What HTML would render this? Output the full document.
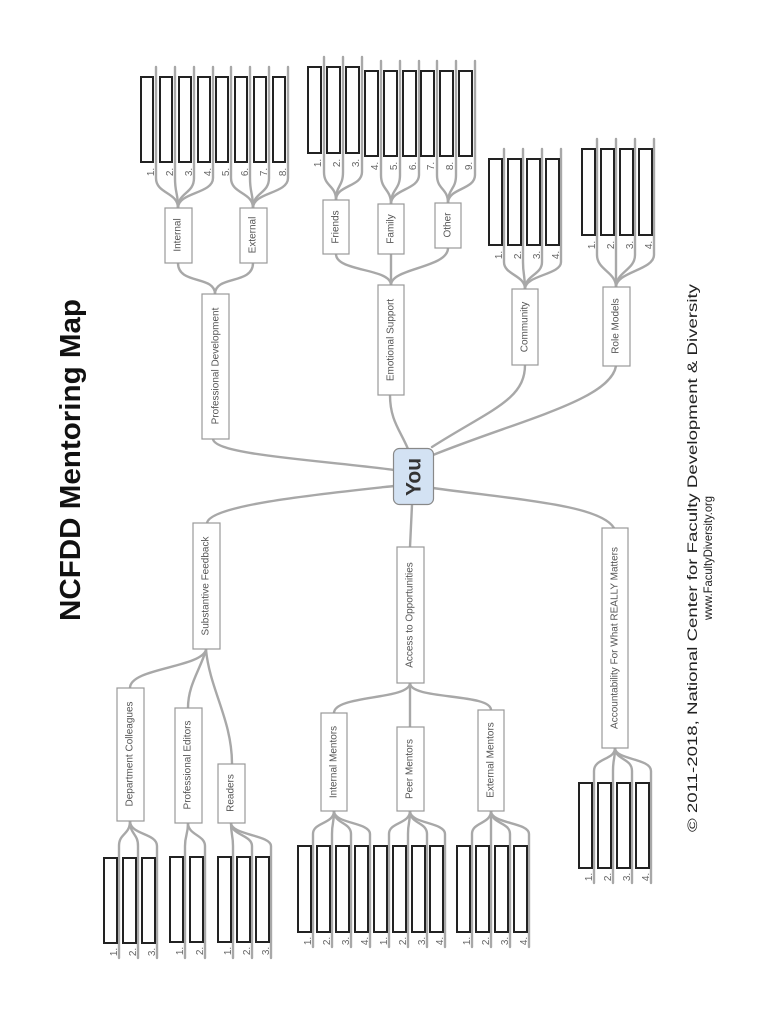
<!DOCTYPE html>
<html><head><meta charset="utf-8"><style>
html,body{margin:0;padding:0;background:#fff;}
svg{display:block;}
text{font-family:"Liberation Sans",Arial,sans-serif;}
.c{fill:none;stroke:#a8a8a8;stroke-width:2.4;stroke-linecap:round;}
.n{fill:#fff;stroke:#999;stroke-width:1.2;}
.l{fill:#fff;stroke:#222;stroke-width:2;}
.t{font-size:10px;fill:#555;}
.k{font-size:10px;fill:#666;}
</style></head><body>
<svg width="770" height="1024" viewBox="0 0 770 1024" xmlns="http://www.w3.org/2000/svg">
<!-- Title -->
<text transform="translate(80,460) rotate(-90)" text-anchor="middle" font-size="29" font-weight="bold" fill="#111" textLength="322" lengthAdjust="spacingAndGlyphs">NCFDD Mentoring Map</text>
<text transform="translate(697,558) rotate(-90)" text-anchor="middle" font-size="13.5" fill="#222" textLength="548" lengthAdjust="spacingAndGlyphs">© 2011-2018, National Center for Faculty Development &amp; Diversity</text>
<text transform="translate(712,558) rotate(-90)" text-anchor="middle" font-size="12" fill="#222" textLength="124" lengthAdjust="spacingAndGlyphs">www.FacultyDiversity.org</text>

<!-- main connectors -->
<path class="c" d="M394,470 C320,460 215,455 213,439"/>
<path class="c" d="M408,449 C400,430 390,420 390,395"/>
<path class="c" d="M394,486 C320,494 210,505 207,523"/>
<path class="c" d="M412,505 L410,547"/>
<path class="c" d="M433,488 C520,500 600,505 614,528"/>
<path class="c" d="M432,447 C490,410 525,400 525,365"/>
<path class="c" d="M433,455 C520,420 610,400 616,366"/>

<!-- second-level connectors -->
<path class="c" d="M215,294 C215,275 178,285 178,263"/>
<path class="c" d="M215,294 C215,275 253,285 253,263"/>
<path class="c" d="M391,285 C391,268 336,272 336,254"/>
<path class="c" d="M391,285 L391,254"/>
<path class="c" d="M391,285 C391,268 448,268 448,248"/>
<path class="c" d="M206,650 C200,668 130,668 130,688"/>
<path class="c" d="M206,650 C200,670 188,685 188,708"/>
<path class="c" d="M206,650 C210,690 232,720 232,764"/>
<path class="c" d="M410,683 C410,700 334,695 334,713"/>
<path class="c" d="M410,683 L410,727"/>
<path class="c" d="M410,683 C410,700 491,693 491,710"/>

<!-- leaf connectors: top groups -->
<g class="c" fill="none">
<path d="M178,208 C178,192 156,194 156,178 L156,67"/><path d="M178,208 C178,192 175,194 175,178 L175,67"/><path d="M178,208 C178,192 194,194 194,178 L194,67"/><path d="M178,208 C178,192 213,194 213,178 L213,67"/>
<path d="M253,208 C253,192 231,194 231,178 L231,67"/><path d="M253,208 C253,192 250,194 250,178 L250,67"/><path d="M253,208 C253,192 269,194 269,178 L269,67"/><path d="M253,208 C253,192 288,194 288,178 L288,67"/>
<path d="M336,200 C336,185 324,187 324,172 L324,57"/><path d="M336,200 C336,185 343,187 343,172 L343,57"/><path d="M336,200 C336,185 362,187 362,172 L362,57"/>
<path d="M391,204 C391,189 381,190 381,175 L381,61"/><path d="M391,204 C391,189 400,190 400,175 L400,61"/><path d="M391,204 C391,189 419,190 419,175 L419,61"/>
<path d="M448,203 C448,188 437,190 437,175 L437,61"/><path d="M448,203 C448,188 456,190 456,175 L456,61"/><path d="M448,203 C448,188 475,190 475,175 L475,61"/>
<path d="M525,289 C525,275 504,275 504,262 L504,149"/><path d="M525,289 C525,275 523,275 523,262 L523,149"/><path d="M525,289 C525,275 542,275 542,262 L542,149"/><path d="M525,289 C525,275 561,275 561,262 L561,149"/>
<path d="M616,287 C616,272 597,270 597,255 L597,139"/><path d="M616,287 C616,272 616,270 616,255 L616,139"/><path d="M616,287 C616,272 635,270 635,255 L635,139"/><path d="M616,287 C616,272 654,270 654,255 L654,139"/>
<!-- bottom groups -->
<path d="M130,821 C130,835 119,833 119,846 L119,958"/><path d="M130,821 C130,835 138,833 138,846 L138,958"/><path d="M130,821 C130,835 157,833 157,846 L157,958"/>
<path d="M188,823 C188,835 185,835 185,846 L185,958"/><path d="M188,823 C188,835 205,835 205,846 L205,958"/>
<path d="M231,823 C231,835 233,835 233,846 L233,958"/><path d="M231,823 C231,835 252,835 252,846 L252,958"/><path d="M231,823 C231,835 271,835 271,846 L271,958"/>
<path d="M334,811 C334,824 313,822 313,834 L313,947"/><path d="M334,811 C334,824 332,822 332,834 L332,947"/><path d="M334,811 C334,824 351,822 351,834 L351,947"/><path d="M334,811 C334,824 370,822 370,834 L370,947"/>
<path d="M410,811 C410,824 389,822 389,834 L389,947"/><path d="M410,811 C410,824 408,822 408,834 L408,947"/><path d="M410,811 C410,824 427,822 427,834 L427,947"/><path d="M410,811 C410,824 445,822 445,834 L445,947"/>
<path d="M491,811 C491,824 472,822 472,834 L472,947"/><path d="M491,811 C491,824 491,822 491,834 L491,947"/><path d="M491,811 C491,824 510,822 510,834 L510,947"/><path d="M491,811 C491,824 529,822 529,834 L529,947"/>
<path d="M615,748 C615,760 594,758 594,771 L594,883"/><path d="M615,748 C615,760 613,758 613,771 L613,883"/><path d="M615,748 C615,760 632,758 632,771 L632,883"/><path d="M615,748 C615,760 651,758 651,771 L651,883"/>
</g>

<!-- You -->
<rect x="393.5" y="448.5" width="40" height="56" rx="6" fill="#d3e2f3" stroke="#888" stroke-width="1.2"/>
<text transform="translate(414,477) rotate(-90)" text-anchor="middle" dominant-baseline="central" font-size="21" font-weight="bold" fill="#333">You</text>

<!-- nodes -->
<g class="t">
<rect class="n" x="202" y="294" width="27" height="145"/><text transform="translate(216,366) rotate(-90)" text-anchor="middle" dominant-baseline="central">Professional Development</text>
<rect class="n" x="378" y="285" width="26" height="110"/><text transform="translate(391,340) rotate(-90)" text-anchor="middle" dominant-baseline="central">Emotional Support</text>
<rect class="n" x="512" y="289" width="26" height="76"/><text transform="translate(525,327) rotate(-90)" text-anchor="middle" dominant-baseline="central">Community</text>
<rect class="n" x="603" y="287" width="27" height="79"/><text transform="translate(616,326) rotate(-90)" text-anchor="middle" dominant-baseline="central">Role Models</text>
<rect class="n" x="193" y="523" width="27" height="126"/><text transform="translate(206,586) rotate(-90)" text-anchor="middle" dominant-baseline="central">Substantive Feedback</text>
<rect class="n" x="397" y="547" width="27" height="136"/><text transform="translate(410,615) rotate(-90)" text-anchor="middle" dominant-baseline="central">Access to Opportunities</text>
<rect class="n" x="602" y="528" width="26" height="220"/><text transform="translate(615,638) rotate(-90)" text-anchor="middle" dominant-baseline="central">Accountability For What REALLY Matters</text>
<rect class="n" x="165" y="208" width="27" height="55"/><text transform="translate(178,235) rotate(-90)" text-anchor="middle" dominant-baseline="central">Internal</text>
<rect class="n" x="240" y="208" width="27" height="55"/><text transform="translate(253,235) rotate(-90)" text-anchor="middle" dominant-baseline="central">External</text>
<rect class="n" x="323" y="200" width="26" height="54"/><text transform="translate(336,227) rotate(-90)" text-anchor="middle" dominant-baseline="central">Friends</text>
<rect class="n" x="378" y="204" width="26" height="50"/><text transform="translate(391,229) rotate(-90)" text-anchor="middle" dominant-baseline="central">Family</text>
<rect class="n" x="435" y="203" width="26" height="45"/><text transform="translate(448,225) rotate(-90)" text-anchor="middle" dominant-baseline="central">Other</text>
<rect class="n" x="117" y="688" width="27" height="133"/><text transform="translate(130,754) rotate(-90)" text-anchor="middle" dominant-baseline="central">Department Colleagues</text>
<rect class="n" x="175" y="708" width="27" height="115"/><text transform="translate(188,765) rotate(-90)" text-anchor="middle" dominant-baseline="central">Professional Editors</text>
<rect class="n" x="218" y="764" width="27" height="59"/><text transform="translate(231,793) rotate(-90)" text-anchor="middle" dominant-baseline="central">Readers</text>
<rect class="n" x="321" y="713" width="26" height="98"/><text transform="translate(334,762) rotate(-90)" text-anchor="middle" dominant-baseline="central">Internal Mentors</text>
<rect class="n" x="397" y="727" width="27" height="84"/><text transform="translate(410,769) rotate(-90)" text-anchor="middle" dominant-baseline="central">Peer Mentors</text>
<rect class="n" x="478" y="710" width="26" height="101"/><text transform="translate(491,760) rotate(-90)" text-anchor="middle" dominant-baseline="central">External Mentors</text>
</g>

<!-- leaves top -->
<g>
<rect class="l" x="141" y="77" width="12" height="85"/><rect class="l" x="160" y="77" width="12" height="85"/><rect class="l" x="179" y="77" width="12" height="85"/><rect class="l" x="198" y="77" width="12" height="85"/>
<rect class="l" x="216" y="77" width="12" height="85"/><rect class="l" x="235" y="77" width="12" height="85"/><rect class="l" x="254" y="77" width="12" height="85"/><rect class="l" x="273" y="77" width="12" height="85"/>
<rect class="l" x="308" y="67" width="13" height="86"/><rect class="l" x="327" y="67" width="13" height="86"/><rect class="l" x="346" y="67" width="13" height="86"/>
<rect class="l" x="365" y="71" width="13" height="85"/><rect class="l" x="384" y="71" width="13" height="85"/><rect class="l" x="403" y="71" width="13" height="85"/>
<rect class="l" x="421" y="71" width="13" height="85"/><rect class="l" x="440" y="71" width="13" height="85"/><rect class="l" x="459" y="71" width="13" height="85"/>
<rect class="l" x="489" y="159" width="13" height="86"/><rect class="l" x="508" y="159" width="13" height="86"/><rect class="l" x="527" y="159" width="13" height="86"/><rect class="l" x="546" y="159" width="13" height="86"/>
<rect class="l" x="582" y="149" width="13" height="86"/><rect class="l" x="601" y="149" width="13" height="86"/><rect class="l" x="620" y="149" width="13" height="86"/><rect class="l" x="639" y="149" width="13" height="86"/>
<!-- leaves bottom -->
<rect class="l" x="104" y="858" width="13" height="85"/><rect class="l" x="123" y="858" width="13" height="85"/><rect class="l" x="142" y="858" width="13" height="85"/>
<rect class="l" x="170" y="857" width="13" height="85"/><rect class="l" x="190" y="857" width="13" height="85"/>
<rect class="l" x="218" y="857" width="13" height="85"/><rect class="l" x="237" y="857" width="13" height="85"/><rect class="l" x="256" y="857" width="13" height="85"/>
<rect class="l" x="298" y="846" width="13" height="86"/><rect class="l" x="317" y="846" width="13" height="86"/><rect class="l" x="336" y="846" width="13" height="86"/><rect class="l" x="355" y="846" width="13" height="86"/>
<rect class="l" x="374" y="846" width="13" height="86"/><rect class="l" x="393" y="846" width="13" height="86"/><rect class="l" x="412" y="846" width="13" height="86"/><rect class="l" x="430" y="846" width="13" height="86"/>
<rect class="l" x="457" y="846" width="13" height="86"/><rect class="l" x="476" y="846" width="13" height="86"/><rect class="l" x="495" y="846" width="13" height="86"/><rect class="l" x="514" y="846" width="13" height="86"/>
<rect class="l" x="579" y="783" width="13" height="85"/><rect class="l" x="598" y="783" width="13" height="85"/><rect class="l" x="617" y="783" width="13" height="85"/><rect class="l" x="636" y="783" width="13" height="85"/>
</g>

<!-- numbers -->
<g class="k" text-anchor="middle">
<text transform="translate(151,172) rotate(-90)" dy="3">1.</text><text transform="translate(170,172) rotate(-90)" dy="3">2.</text><text transform="translate(189,172) rotate(-90)" dy="3">3.</text><text transform="translate(208,172) rotate(-90)" dy="3">4.</text>
<text transform="translate(226,172) rotate(-90)" dy="3">5.</text><text transform="translate(245,172) rotate(-90)" dy="3">6.</text><text transform="translate(264,172) rotate(-90)" dy="3">7.</text><text transform="translate(283,172) rotate(-90)" dy="3">8.</text>
<text transform="translate(318,163) rotate(-90)" dy="3">1.</text><text transform="translate(337,163) rotate(-90)" dy="3">2.</text><text transform="translate(356,163) rotate(-90)" dy="3">3.</text>
<text transform="translate(375,166) rotate(-90)" dy="3">4.</text><text transform="translate(394,166) rotate(-90)" dy="3">5.</text><text transform="translate(413,166) rotate(-90)" dy="3">6.</text>
<text transform="translate(431,166) rotate(-90)" dy="3">7.</text><text transform="translate(450,166) rotate(-90)" dy="3">8.</text><text transform="translate(469,166) rotate(-90)" dy="3">9.</text>
<text transform="translate(499,255) rotate(-90)" dy="3">1.</text><text transform="translate(518,255) rotate(-90)" dy="3">2.</text><text transform="translate(537,255) rotate(-90)" dy="3">3.</text><text transform="translate(556,255) rotate(-90)" dy="3">4.</text>
<text transform="translate(592,245) rotate(-90)" dy="3">1.</text><text transform="translate(611,245) rotate(-90)" dy="3">2.</text><text transform="translate(630,245) rotate(-90)" dy="3">3.</text><text transform="translate(649,245) rotate(-90)" dy="3">4.</text>
<text transform="translate(114,952) rotate(-90)" dy="3">1.</text><text transform="translate(133,952) rotate(-90)" dy="3">2.</text><text transform="translate(152,952) rotate(-90)" dy="3">3.</text>
<text transform="translate(180,951) rotate(-90)" dy="3">1.</text><text transform="translate(200,951) rotate(-90)" dy="3">2.</text>
<text transform="translate(228,951) rotate(-90)" dy="3">1.</text><text transform="translate(247,951) rotate(-90)" dy="3">2.</text><text transform="translate(266,951) rotate(-90)" dy="3">3.</text>
<text transform="translate(308,941) rotate(-90)" dy="3">1.</text><text transform="translate(327,941) rotate(-90)" dy="3">2.</text><text transform="translate(346,941) rotate(-90)" dy="3">3.</text><text transform="translate(365,941) rotate(-90)" dy="3">4.</text>
<text transform="translate(384,941) rotate(-90)" dy="3">1.</text><text transform="translate(403,941) rotate(-90)" dy="3">2.</text><text transform="translate(422,941) rotate(-90)" dy="3">3.</text><text transform="translate(440,941) rotate(-90)" dy="3">4.</text>
<text transform="translate(467,941) rotate(-90)" dy="3">1.</text><text transform="translate(486,941) rotate(-90)" dy="3">2.</text><text transform="translate(505,941) rotate(-90)" dy="3">3.</text><text transform="translate(524,941) rotate(-90)" dy="3">4.</text>
<text transform="translate(589,877) rotate(-90)" dy="3">1.</text><text transform="translate(608,877) rotate(-90)" dy="3">2.</text><text transform="translate(627,877) rotate(-90)" dy="3">3.</text><text transform="translate(646,877) rotate(-90)" dy="3">4.</text>
</g>
</svg>
</body></html>
